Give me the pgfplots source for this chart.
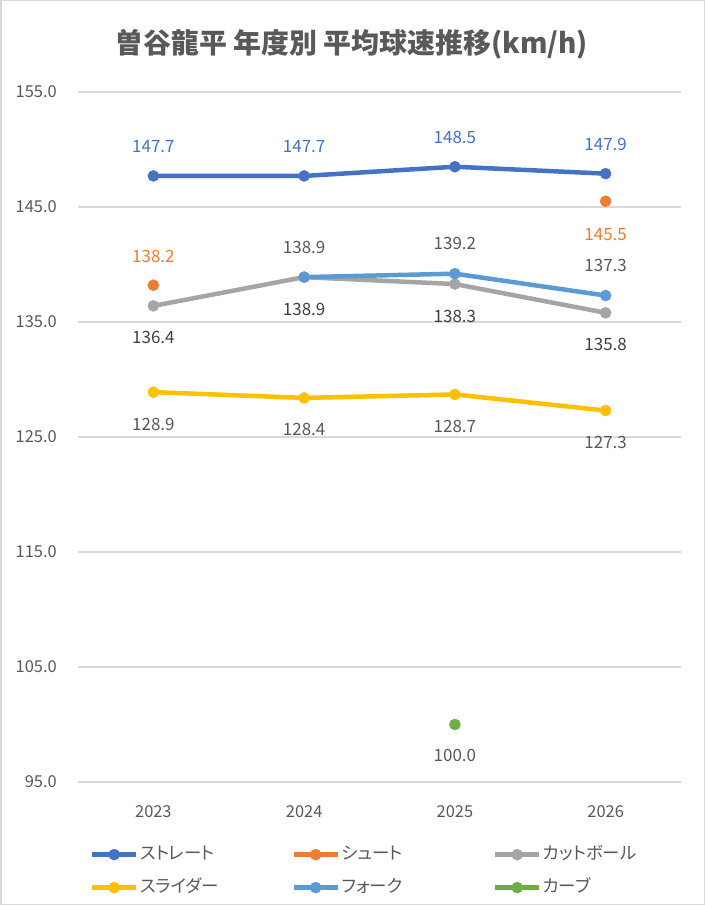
\documentclass[border=0pt]{standalone}
\usepackage{pgfplots}
\pgfplotsset{compat=1.18}
\usepackage{fontspec}
\setmainfont{Noto Sans CJK JP}
\newfontfamily\paltfont[RawFeature=+palt]{Noto Sans CJK JP}
\definecolor{cA}{HTML}{4472C4}
\definecolor{cB}{HTML}{ED7D31}
\definecolor{cC}{HTML}{A5A5A5}
\definecolor{cD}{HTML}{FFC000}
\definecolor{cE}{HTML}{5B9BD5}
\definecolor{cF}{HTML}{70AD47}
\definecolor{txt}{HTML}{595959}
\definecolor{txtd}{HTML}{404040}
\definecolor{gridc}{HTML}{D9D9D9}
\newcommand\labsize{\fontsize{17}{20}\selectfont}
\newcommand\ticksize{\fontsize{16.5}{20}\selectfont}
\newcommand\legsize{\fontsize{17.5}{20}\selectfont\paltfont}
\begin{document}
\begin{tikzpicture}
\useasboundingbox (0,0) rectangle (705bp,905bp);
\fill[white] (0,0) rectangle (705bp,905bp);
\draw[gridc, line width=1.5bp] (0.75bp,0.75bp) rectangle (704.25bp,904.25bp);
\begin{axis}[
  at={(78bp,123bp)}, anchor=south west,
  scale only axis, width=603bp, height=690bp,
  xmin=-0.5, xmax=3.5, ymin=95, ymax=155,
  xtick={0,1,2,3}, xticklabels={2023,2024,2025,2026},
  ytick={95,105,115,125,135,145,155},
  /pgf/number format/.cd, fixed, fixed zerofill, precision=1, assume math mode=true, /pgfplots/.cd,
  ymajorgrids, major grid style={draw=gridc, line width=1.3bp},
  axis line style={draw=none}, tick style={draw=none},
  yticklabel style={font=\ticksize, text=txt, anchor=east, inner sep=0pt, xshift=-21bp},
  xticklabel style={font=\ticksize, text=txt, anchor=center, inner sep=0pt, yshift=-30bp},
  clip=false,
  title={曽谷龍平 年度別 平均球速推移(km/h)},
  title style={at={(axis description cs:0.454,1.060)}, anchor=center, font=\fontsize{28}{30}\selectfont\bfseries, text=txt},
  every axis plot/.append style={line width=4.5bp, mark=*, mark size=5.5bp, mark options={solid, line width=0.5bp}},
  legend image code/.code={\draw[#1, mark repeat=2, mark phase=2] plot coordinates {(0bp,0bp) (22bp,0bp) (44bp,0bp)};},
  legend columns=3,
  legend style={draw=none, fill=none, at={(axis description cs:0.0145,-0.0876)}, anchor=north west,
    font=\legsize, text=txt, row sep=13bp,
    nodes={inner sep=1.5bp, text height=13bp, text depth=4bp}},
]
\addplot[color=cA, nodes near coords, nodes near coords style={font=\labsize, text=cA, anchor=center, yshift=29bp}]
  coordinates {(0,147.7) (1,147.7) (2,148.5) (3,147.9)};
\addlegendentry{\makebox[150bp][l]{ストレート}}
\addplot[color=cB, nodes near coords, nodes near coords style={font=\labsize, text=cB, anchor=center, yshift=29bp}]
  coordinates {(0,138.2)};
\addlegendentry{\makebox[150bp][l]{シュート}}
\addplot[color=cB, forget plot, nodes near coords, nodes near coords style={font=\labsize, text=cB, anchor=center, yshift=-33bp}]
  coordinates {(3,145.5)};
\addplot[color=cC, nodes near coords, nodes near coords style={font=\labsize, text=txtd, anchor=center, yshift=-32bp}]
  coordinates {(0,136.4) (1,138.9) (2,138.3) (3,135.8)};
\addlegendentry{\makebox[150bp][l]{カットボール}}
\addplot[color=cD, nodes near coords, nodes near coords style={font=\labsize, text=txt, anchor=center, yshift=-32bp}]
  coordinates {(0,128.9) (1,128.4) (2,128.7) (3,127.3)};
\addlegendentry{\makebox[150bp][l]{スライダー}}
\addplot[color=cE, nodes near coords, nodes near coords style={font=\labsize, text=txt, anchor=center, yshift=30bp}]
  coordinates {(1,138.9) (2,139.2) (3,137.3)};
\addlegendentry{\makebox[150bp][l]{フォーク}}
\addplot[color=cF, nodes near coords, nodes near coords style={font=\labsize, text=txt, anchor=center, yshift=-31bp}]
  coordinates {(2,100.0)};
\addlegendentry{\makebox[150bp][l]{カーブ}}
\end{axis}
\end{tikzpicture}
\end{document}
